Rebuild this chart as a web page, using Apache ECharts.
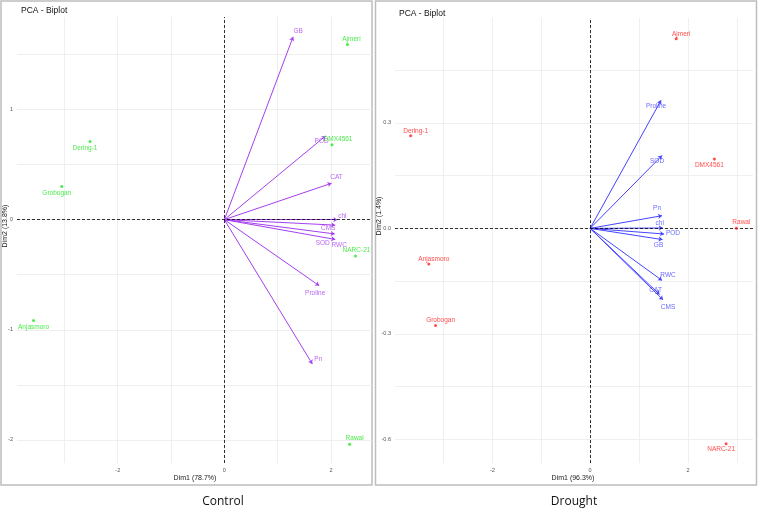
<!DOCTYPE html>
<html>
<head>
<meta charset="utf-8">
<script src="https://cdn.jsdelivr.net/npm/echarts@6/dist/echarts.min.js"></script>
<style>
html, body { margin: 0; padding: 0; background: #fff; }
#main { width: 758px; height: 510px; }
</style>
</head>
<body>
<div id="main"></div>
<script>
// genotype scores
var genotypes = ['Ajmeri', 'DMX4561', 'Dering-1', 'Grobogan', 'NARC-21', 'Anjasmoro', 'Rawal'];
var controlDim1 = [2.31, 2.02, -2.52, -3.05, 2.46, -3.58, 2.35];
var controlDim2 = [1.59, 0.68, 0.71, 0.30, -0.33, -0.915, -2.04];
var droughtDim1 = [1.76, 2.54, -3.67, -3.16, 2.78, -3.30, 2.99];
var droughtDim2 = [0.539, 0.197, 0.263, -0.276, -0.612, -0.101, 0.0];

// variable loadings (arrow tips)
var variables = ['GB', 'POD', 'CAT', 'chl', 'CMS', 'SOD', 'RWC', 'Proline', 'Pn'];
var controlVar1 = [1.29, 1.90, 2.01, 2.12, 2.08, 2.07, 2.08, 1.78, 1.65];
var controlVar2 = [1.66, 0.76, 0.33, 0.00, -0.05, -0.13, -0.18, -0.60, -1.31];
var droughtVar1 = [1.48, 1.51, 1.42, 1.485, 1.49, 1.47, 1.47, 1.45, 1.47];
var droughtVar2 = [-0.032, -0.016, -0.188, 0.001, -0.203, 0.207, -0.148, 0.364, 0.036];

// label nudges in px (style only)
var ctrlPtOff = { 'Ajmeri': [4, -5], 'DMX4561': [6, -6], 'Dering-1': [-5, 7], 'Grobogan': [-5, 7], 'NARC-21': [1, -6], 'Anjasmoro': [0, 7], 'Rawal': [5, -6] };
var drPtOff = { 'Ajmeri': [5, -5], 'DMX4561': [-5, 6], 'Dering-1': [5, -5], 'Grobogan': [5, -5], 'NARC-21': [-5, 6], 'Anjasmoro': [5, -5], 'Rawal': [5, -6] };
var ctrlVarOff = { 'GB': [5, -6], 'POD': [-4, 5], 'CAT': [5, -6], 'chl': [5, -3], 'CMS': [-7, 3], 'SOD': [-12, 9], 'RWC': [4, 6], 'Proline': [-4, 8], 'Pn': [6, -5] };
var drVarOff = { 'GB': [-4, 6], 'POD': [9, -1], 'CAT': [-4, -4], 'chl': [-3, -5], 'CMS': [5, 7], 'SOD': [-5, 6], 'RWC': [6, -5], 'Proline': [-5, 6], 'Pn': [-5, -7] };

var FONT = 'Liberation Sans';
var myChart = echarts.init(document.getElementById('main'));

function valueAxis(gridIndex, min, max, step, labelStep, digits) {
    return {
        type: 'value',
        gridIndex: gridIndex,
        min: min,
        max: max,
        minInterval: step,
        maxInterval: step,
        axisLine: { show: false },
        axisTick: { show: false },
        splitLine: { show: true, showMinLine: false, showMaxLine: false, lineStyle: { color: '#ebebeb', width: 0.8 } },
        axisLabel: {
            fontSize: 5.5,
            fontFamily: FONT,
            color: '#555',
            margin: 4,
            formatter: function (v) {
                var k = v / labelStep;
                if (Math.abs(k - Math.round(k)) > 1e-6) return '';
                var s = (Math.round(k) * labelStep).toFixed(digits);
                return s === '-0' ? '0' : s;
            }
        }
    };
}

function pointSeries(idx, xs, ys, offs, color) {
    return {
        type: 'scatter',
        xAxisIndex: idx,
        yAxisIndex: idx,
        symbolSize: 3,
        itemStyle: { color: color },
        z: 5,
        data: genotypes.map(function (g, i) {
            return {
                name: g,
                value: [xs[i], ys[i]],
                label: { offset: offs[g] }
            };
        }),
        label: {
            show: true,
            position: 'inside',
            formatter: '{b}',
            fontSize: 6.5,
            fontFamily: FONT,
            color: color
        },
        markLine: {
            silent: true,
            symbol: 'none',
            animation: false,
            label: { show: false },
            lineStyle: { color: '#000', type: [3, 2], width: 0.8 },
            data: [{ xAxis: 0 }, { yAxis: 0 }]
        }
    };
}

function arrowSeries(idx, xs, ys, color) {
    return {
        type: 'lines',
        coordinateSystem: 'cartesian2d',
        xAxisIndex: idx,
        yAxisIndex: idx,
        symbol: ['none', 'arrow'],
        symbolSize: 4,
        lineStyle: { color: color, width: 1, opacity: 1 },
        z: 3,
        data: variables.map(function (v, i) {
            return { coords: [[0, 0], [xs[i], ys[i]]] };
        })
    };
}

function varLabelSeries(idx, xs, ys, offs, color) {
    return {
        type: 'scatter',
        xAxisIndex: idx,
        yAxisIndex: idx,
        symbolSize: 0.1,
        z: 4,
        data: variables.map(function (v, i) {
            return { name: v, value: [xs[i], ys[i]], label: { offset: offs[v] } };
        }),
        label: {
            show: true,
            position: 'inside',
            formatter: '{b}',
            fontSize: 6.5,
            fontFamily: FONT,
            color: color
        }
    };
}

function txt(x, y, text, size, rot, family, color) {
    return {
        type: 'text',
        x: x,
        y: y,
        rotation: rot || 0,
        style: {
            text: text,
            fontSize: size,
            fontFamily: family || FONT,
            fill: color || '#1a1a1a',
            textAlign: 'center',
            textVerticalAlign: 'middle'
        }
    };
}

var PURPLE = '#a53ff0';
var GREEN = '#1ee61e';
var BLUE = '#4444ff';
var RED = '#ff2020';

option = {
    animation: false,
    backgroundColor: '#fff',
    title: [
        { text: 'PCA - Biplot', left: 16, top: 1, textStyle: { fontSize: 8.5, fontWeight: 'normal', fontFamily: FONT, color: '#111' } },
        { text: 'PCA - Biplot', left: 394, top: 4, textStyle: { fontSize: 8.5, fontWeight: 'normal', fontFamily: FONT, color: '#111' } }
    ],
    grid: [
        { left: 17, top: 17, width: 355, height: 446 },
        { left: 395, top: 18, width: 358, height: 445 }
    ],
    xAxis: [
        valueAxis(0, -3.89, 2.77, 1, 2, 0),
        valueAxis(1, -3.99, 3.33, 1, 2, 0)
    ],
    yAxis: [
        valueAxis(0, -2.21, 1.84, 0.5, 1, 0),
        valueAxis(1, -0.667, 0.598, 0.15, 0.3, 1)
    ],
    graphic: [
        { type: 'rect', shape: { x: 1, y: 1, width: 371, height: 484 }, style: { fill: 'none', stroke: '#bdbdbd', lineWidth: 1.5 }, silent: true },
        { type: 'rect', shape: { x: 375.5, y: 1, width: 381, height: 484 }, style: { fill: 'none', stroke: '#bdbdbd', lineWidth: 1.5 }, silent: true },
        txt(195, 478, 'Dim1 (78.7%)', 7),
        txt(573, 478, 'Dim1 (96.3%)', 7),
        txt(5, 226, 'Dim2 (13.8%)', 7, Math.PI / 2),
        txt(379, 216, 'Dim2 (1.4%)', 7, Math.PI / 2),
        txt(223, 502, 'Control', 12, 0, 'Open Sans', '#111'),
        txt(574, 502, 'Drought', 12, 0, 'Open Sans', '#111')
    ],
    series: [
        arrowSeries(0, controlVar1, controlVar2, PURPLE),
        varLabelSeries(0, controlVar1, controlVar2, ctrlVarOff, PURPLE),
        pointSeries(0, controlDim1, controlDim2, ctrlPtOff, GREEN),
        arrowSeries(1, droughtVar1, droughtVar2, BLUE),
        varLabelSeries(1, droughtVar1, droughtVar2, drVarOff, BLUE),
        pointSeries(1, droughtDim1, droughtDim2, drPtOff, RED)
    ]
};

myChart.setOption(option);
</script>
</body>
</html>
